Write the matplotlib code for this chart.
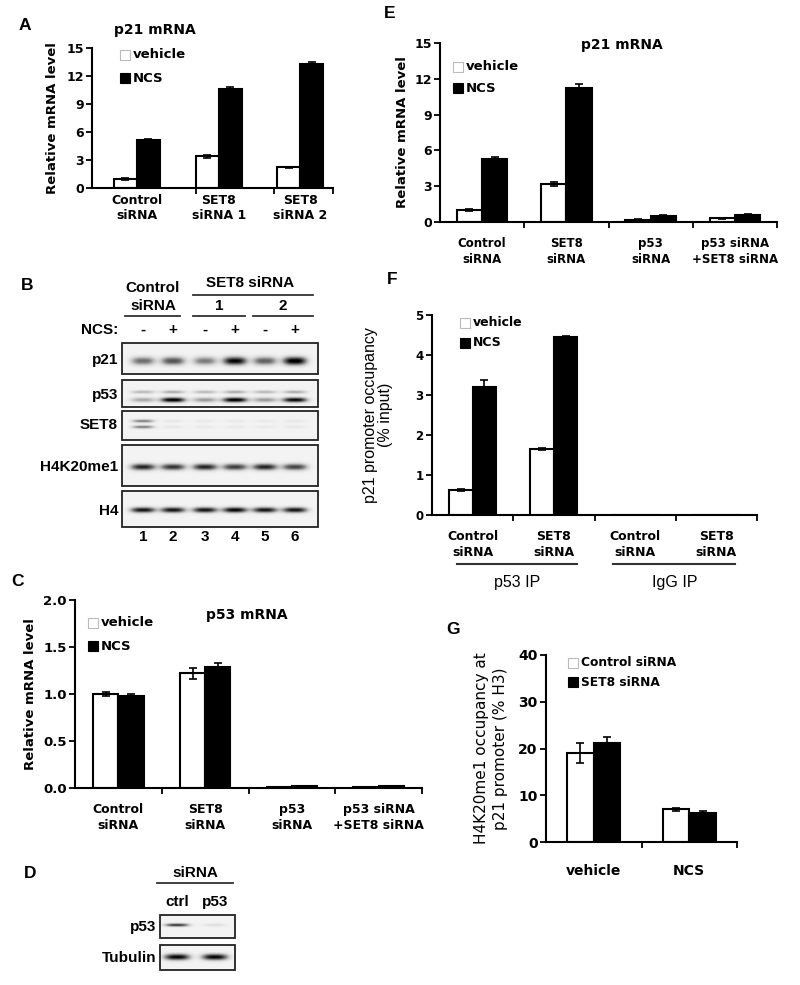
import numpy as np
import matplotlib.pyplot as plt
from matplotlib.patches import Rectangle

W, H = 800, 985

# ---- bar chart data ----
A_groups = ["Control\nsiRNA", "SET8\nsiRNA 1", "SET8\nsiRNA 2"]
A_vehicle = [1.0, 3.4, 2.2]
A_vehicle_err = [0.1, 0.15, 0.1]
A_ncs = [5.1, 10.6, 13.3]
A_ncs_err = [0.12, 0.2, 0.2]

E_groups = ["Control\nsiRNA", "SET8\nsiRNA", "p53\nsiRNA", "p53 siRNA\n+SET8 siRNA"]
E_vehicle = [1.0, 3.2, 0.2, 0.3]
E_vehicle_err = [0.06, 0.15, 0.04, 0.05]
E_ncs = [5.3, 11.2, 0.5, 0.6]
E_ncs_err = [0.15, 0.4, 0.05, 0.08]

F_groups = ["Control\nsiRNA", "SET8\nsiRNA", "Control\nsiRNA", "SET8\nsiRNA"]
F_vehicle = [0.63, 1.65, 0.01, 0.01]
F_vehicle_err = [0.03, 0.03, 0.0, 0.0]
F_ncs = [3.2, 4.45, 0.01, 0.01]
F_ncs_err = [0.18, 0.03, 0.0, 0.0]

C_groups = ["Control\nsiRNA", "SET8\nsiRNA", "p53\nsiRNA", "p53 siRNA\n+SET8 siRNA"]
C_vehicle = [1.0, 1.22, 0.01, 0.01]
C_vehicle_err = [0.02, 0.06, 0.003, 0.003]
C_ncs = [0.98, 1.29, 0.02, 0.02]
C_ncs_err = [0.02, 0.04, 0.003, 0.003]

G_groups = ["vehicle", "NCS"]
G_control = [19.0, 7.0]
G_control_err = [2.2, 0.3]
G_set8 = [21.2, 6.3]
G_set8_err = [1.3, 0.3]

# ---- western blot band intensities (0..1) ----
B_lanes = ["1", "2", "3", "4", "5", "6"]
B_ncs = ["-", "+", "-", "+", "-", "+"]
B_p21 = [0.55, 0.65, 0.5, 0.9, 0.6, 0.95]
B_p53_upper = [0.3, 0.35, 0.3, 0.35, 0.3, 0.35]
B_p53_lower = [0.35, 0.95, 0.4, 0.95, 0.4, 0.9]
B_set8 = [0.5, 0.08, 0.07, 0.07, 0.07, 0.08]
B_h4k20 = [0.8, 0.75, 0.8, 0.72, 0.8, 0.7]
B_h4 = [0.85, 0.85, 0.85, 0.9, 0.85, 0.85]
D_lanes = ["ctrl", "p53"]
D_p53 = [0.75, 0.12]
D_tubulin = [0.9, 0.9]

plt.rcParams['font.family'] = 'DejaVu Sans'
plt.rcParams['font.weight'] = 'bold'

fig = plt.figure(figsize=(W / 100, H / 100), dpi=100)


def add_ax(x0, y0, x1, y1):
    return fig.add_axes([x0 / W, 1 - y1 / H, (x1 - x0) / W, (y1 - y0) / H])


def bar_panel(box, groups, s1, e1, s2, e2, ylim, yticks, ylabel, xlim, minor,
              width=0.29, tick_fs=9, lab_fs=9, lab_pad=4, ylab_fs=9.5,
              ylab_kw=None, yfmt=None):
    ax = add_ax(*box)
    x = np.arange(len(groups))
    ax.bar(x - width / 2, s1, width, color='white', edgecolor='black', lw=1.5, zorder=2)
    ax.bar(x + width / 2, s2, width, color='black', edgecolor='black', lw=1.5, zorder=2)
    ax.errorbar(x - width / 2, s1, yerr=e1, fmt='none', ecolor='black',
                elinewidth=1.2, capsize=3, capthick=1.2, zorder=3)
    ax.errorbar(x + width / 2, s2, yerr=e2, fmt='none', ecolor='black',
                elinewidth=1.2, capsize=3, capthick=1.2, zorder=3)
    ax.set_xlim(*xlim)
    ax.set_ylim(*ylim)
    ax.set_yticks(yticks)
    if yfmt:
        ax.set_yticklabels([yfmt % t for t in yticks])
    ax.set_xticks(x)
    ax.set_xticklabels(groups, fontsize=lab_fs, linespacing=1.25)
    ax.set_xticks(minor, minor=True)
    ax.tick_params(axis='x', which='major', length=0, pad=lab_pad)
    ax.tick_params(axis='x', which='minor', length=4, width=1.3)
    ax.tick_params(axis='y', length=4, width=1.3, labelsize=tick_fs, pad=2)
    for s in ['top', 'right']:
        ax.spines[s].set_visible(False)
    for s in ['left', 'bottom']:
        ax.spines[s].set_linewidth(1.5)
    kw = dict(fontsize=ylab_fs, fontweight='bold')
    if ylab_kw:
        kw.update(ylab_kw)
    ax.set_ylabel(ylabel, **kw)
    return ax


axA = bar_panel((92, 48, 333, 188), A_groups, A_vehicle, A_vehicle_err, A_ncs, A_ncs_err,
                (0, 15), [0, 3, 6, 9, 12, 15], "Relative mRNA level",
                (-0.55, 2.4), [0.72, 1.68, 2.4], width=0.28, lab_pad=4)
axA.yaxis.set_label_coords(-0.135, 0.5)

axE = bar_panel((440, 43, 777, 222), E_groups, E_vehicle, E_vehicle_err, E_ncs, E_ncs_err,
                (0, 15), [0, 3, 6, 9, 12, 15], "Relative mRNA level",
                (-0.5, 3.5), [0.5, 1.5, 2.5, 3.5], width=0.3, lab_fs=8.5, lab_pad=11)
axE.yaxis.set_label_coords(-0.092, 0.5)

axF = bar_panel((432, 315, 757, 515), F_groups, F_vehicle, F_vehicle_err, F_ncs, F_ncs_err,
                (0, 5), [0, 1, 2, 3, 4, 5], "p21 promoter occupancy\n(% input)",
                (-0.5, 3.5), [0.5, 1.5, 2.5, 3.5], width=0.29, tick_fs=8.5, lab_pad=11,
                ylab_fs=11.5, ylab_kw=dict(family='Liberation Sans', fontweight='normal',
                                           linespacing=1.0))
axF.yaxis.set_label_coords(-0.12, 0.5)

axC = bar_panel((75, 600, 422, 788), C_groups, C_vehicle, C_vehicle_err, C_ncs, C_ncs_err,
                (0, 2), [0, 0.5, 1.0, 1.5, 2.0], "Relative mRNA level",
                (-0.5, 3.5), [0.5, 1.5, 2.5, 3.5], width=0.29, tick_fs=9.5, lab_pad=11,
                yfmt="%.1f")
axC.yaxis.set_label_coords(-0.11, 0.5)

axG = bar_panel((546, 655, 737, 842), G_groups, G_control, G_control_err, G_set8, G_set8_err,
                (0, 40), [0, 10, 20, 30, 40], "H4K20me1 occupancy at\np21 promoter (% H3)",
                (-0.5, 1.5), [0.5, 1.5], width=0.28, tick_fs=10, lab_fs=10, lab_pad=16,
                ylab_fs=11, ylab_kw=dict(fontweight='normal', linespacing=1.35))
axG.yaxis.set_label_coords(-0.2, 0.5)

# ---- overlay in pixel coordinates ----
ov = fig.add_axes([0, 0, 1, 1])
ov.patch.set_alpha(0)


def legend(x, ys, labels, fs):
    colors = ['white', 'black']
    for y, lab, c in zip(ys, labels, colors):
        ov.add_patch(Rectangle((x, y - 5), 10, 10, facecolor=c,
                               edgecolor='#bbbbbb' if c == 'white' else 'black', lw=0.8))
        ov.text(x + 13, y, lab, fontsize=fs, fontweight='bold', va='center', ha='left')


legend(120, [55, 78], ["vehicle", "NCS"], 9.5)
legend(453, [67, 88], ["vehicle", "NCS"], 9.5)
legend(460, [323, 343], ["vehicle", "NCS"], 9)
legend(88, [623, 646], ["vehicle", "NCS"], 9.5)
legend(568, [663, 682], ["Control siRNA", "SET8 siRNA"], 8.8)

ov.text(155, 30, "p21 mRNA", fontsize=10, fontweight='bold', ha='center', va='center')
ov.text(622, 45, "p21 mRNA", fontsize=10, fontweight='bold', ha='center', va='center')
ov.text(247, 615, "p53 mRNA", fontsize=10, fontweight='bold', ha='center', va='center')

for lab, (lx, ly) in zip("ABCDEFG", [(25, 25), (27, 286), (17, 582), (30, 873),
                                     (390, 13), (392, 279), (453, 630)]):
    ov.text(lx, ly, lab, fontsize=12.5, fontweight='bold', family='Liberation Sans',
            ha='center', va='center')

# F group annotations
ov.plot([457, 577], [564, 564], color='#333333', lw=1.5)
ov.plot([613, 735], [564, 564], color='#333333', lw=1.5)
ov.text(517, 583, "p53 IP", fontsize=11.5, family='Liberation Sans', fontweight='normal',
        ha='center', va='center')
ov.text(675, 583, "IgG IP", fontsize=11.5, family='Liberation Sans', fontweight='normal',
        ha='center', va='center')


def strip(x0, x1, y0, y1, lane_x, bands, bg=0.1):
    xs = np.linspace(x0, x1, int((x1 - x0) * 3))
    ys = np.linspace(y0, y1, int((y1 - y0) * 3))
    X, Y = np.meshgrid(xs, ys)
    img = np.full(X.shape, bg)
    for yc, sig, half, vals in bands:
        for lx, v in zip(lane_x, vals):
            img += v * np.exp(-np.abs((X - lx) / half) ** 3) * np.exp(-((Y - yc) / sig) ** 2)
    img = np.clip(img, 0, 1)
    ov.imshow(img, extent=(x0, x1, y1, y0), cmap='Greys', vmin=0, vmax=1,
              aspect='auto', interpolation='bilinear', zorder=1)
    ov.add_patch(Rectangle((x0, y0), x1 - x0, y1 - y0, fill=False,
                           edgecolor='#222222', lw=1.3, zorder=2))


blot_font = dict(family='Liberation Sans', fontweight='bold', fontsize=11)

# ---- panel B blot ----
lane_x = [143, 173, 205, 235, 265, 295]
bx0, bx1 = 122, 318
strip(bx0, bx1, 343, 374, lane_x, [(361, 4.2, 12, B_p21)])
strip(bx0, bx1, 380, 407, lane_x, [(392, 1.7, 12, B_p53_upper), (400, 2.5, 12.5, B_p53_lower)])
strip(bx0, bx1, 411, 440, lane_x, [(421, 1.6, 11, B_set8), (427, 1.6, 11, B_set8)])
strip(bx0, bx1, 445, 486, lane_x, [(467, 3.3, 12.5, B_h4k20)])
strip(bx0, bx1, 491, 527, lane_x, [(510, 2.8, 12.5, B_h4)])

for lab, y in zip(["p21", "p53", "SET8", "H4K20me1", "H4"], [360, 395, 425, 467, 511]):
    ov.text(118, y, lab, ha='right', va='center', **blot_font)
for lx, s, n in zip(lane_x, B_ncs, B_lanes):
    ov.text(lx, 330, s, ha='center', va='center', **blot_font)
    ov.text(lx, 537, n, ha='center', va='center', **blot_font)
ov.text(118, 330, "NCS:", ha='right', va='center', **blot_font)
ov.text(153, 288, "Control", ha='center', va='center', **blot_font)
ov.text(153, 306, "siRNA", ha='center', va='center', **blot_font)
ov.plot([125, 180], [316, 316], color='#333333', lw=1.3)
ov.text(250, 283, "SET8 siRNA", ha='center', va='center', **blot_font)
ov.plot([193, 313], [295, 295], color='#333333', lw=1.3)
ov.text(219, 306, "1", ha='center', va='center', **blot_font)
ov.plot([193, 245], [316, 316], color='#333333', lw=1.3)
ov.text(283, 306, "2", ha='center', va='center', **blot_font)
ov.plot([253, 313], [316, 316], color='#333333', lw=1.3)

# ---- panel D blot ----
d_lane_x = [177, 215]
strip(160, 235, 915, 938, d_lane_x, [(925, 1.6, 12, D_p53)])
strip(160, 235, 945, 970, d_lane_x, [(957, 3.2, 13, D_tubulin)])
ov.text(156, 927, "p53", ha='right', va='center', **blot_font)
ov.text(156, 958, "Tubulin", ha='right', va='center', **blot_font)
ov.text(195, 873, "siRNA", ha='center', va='center', **blot_font)
ov.plot([157, 233], [883, 883], color='#333333', lw=1.3)
for lx, lab in zip(d_lane_x, D_lanes):
    ov.text(lx, 902, lab, ha='center', va='center', **blot_font)

ov.set_xlim(0, W)
ov.set_ylim(H, 0)
ov.axis('off')

fig.savefig("out.png", dpi=100, facecolor='white')
